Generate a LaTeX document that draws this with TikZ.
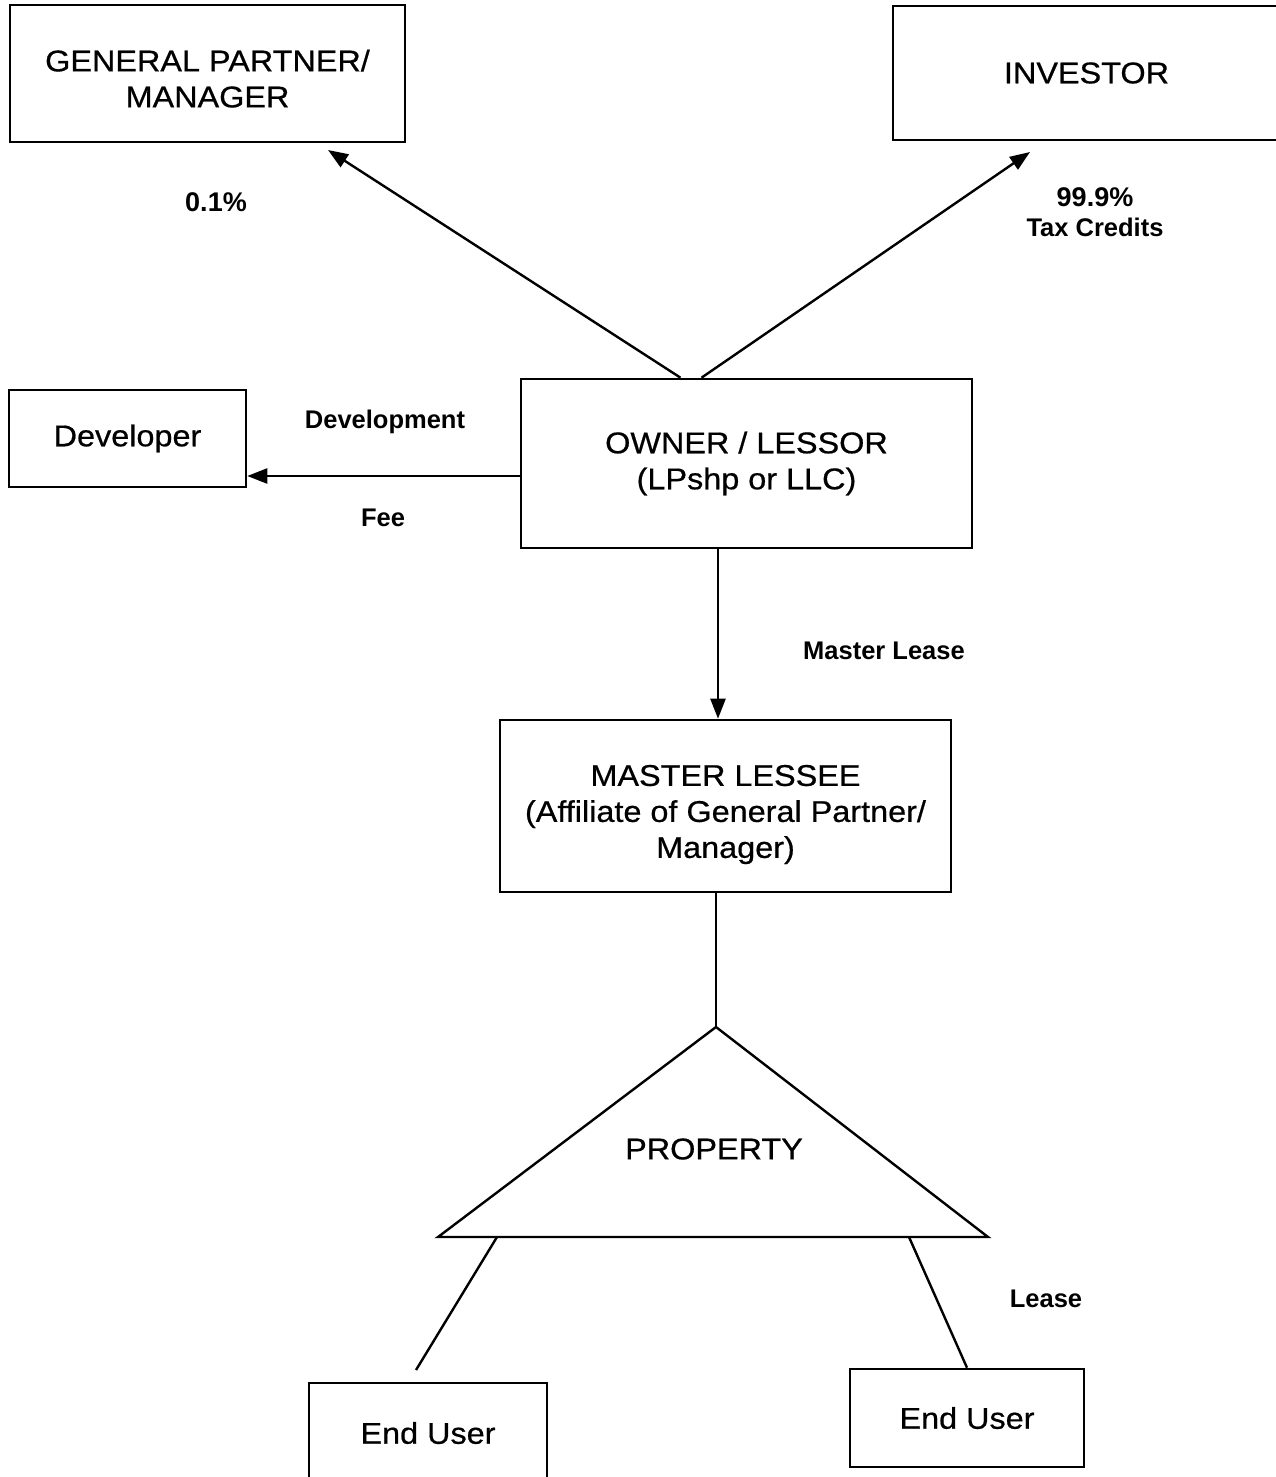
\documentclass[tikz,border=0pt]{standalone}
\usepackage{fontspec}
\setmainfont{Liberation Sans}
\newfontfamily\mainf[FakeStretch=1.08,FakeBold=0.6]{Liberation Sans}
\newfontfamily\lblf{Liberation Sans}
\usetikzlibrary{arrows.meta}
\begin{document}
\begin{tikzpicture}[x=1pt,y=-1pt,
  box/.style={draw,line width=2.6pt,inner sep=0pt,align=center,font=\mainf\fontsize{30}{36}\selectfont},
  lbl/.style={align=center,inner sep=0pt,font=\lblf\bfseries\fontsize{25.5}{30}\selectfont},
  conn/.style={line width=2.4pt},
  arr/.style={conn,-{Triangle[length=20pt,width=15pt]}}]
\useasboundingbox[fill=white] (0,0) rectangle (1275,1477);
% boxes
\node[box,minimum width=395pt,minimum height=137pt] (gp) at (207.5,73.5) {\rule{0pt}{32pt}GENERAL PARTNER/\\MANAGER};
\node[box,minimum width=387pt,minimum height=134pt] (inv) at (1086.5,73) {INVESTOR};
\node[box,minimum width=451pt,minimum height=169pt] (own) at (746.5,463.5) {OWNER / LESSOR\\(LPshp or LLC)};
\node[box,minimum width=237pt,minimum height=97pt] (dev) at (127.5,438.5) {Developer};
\node[box,minimum width=451pt,minimum height=172pt] (ml) at (725.5,806) {\rule{0pt}{38pt}MASTER LESSEE\\(Affiliate of General Partner/\\Manager)};
\node[box,minimum width=238pt,minimum height=100pt] (eul) at (428,1433) {End User};
\node[box,minimum width=234pt,minimum height=98pt] (eur) at (967,1418) {End User};
% triangle
\coordinate (apex) at (716,1027);
\coordinate (bl) at (438,1237);
\coordinate (br) at (988,1237);
\draw[line width=2.4pt,line join=miter] (apex) -- (bl) -- (br) -- cycle;
\node[box,draw=none] (prop) at (714,1149) {PROPERTY};
% labels
\node[lbl,font=\lblf\bfseries\fontsize{27}{30}\selectfont] (l01) at (216,202) {0.1\%};
\node[lbl] (l999) at (1095,212) {{\fontsize{27}{30}\selectfont 99.9\%}\\Tax Credits};
\node[lbl] (ldev) at (385,422) {Development};
\node[lbl] (lfee) at (383,518) {Fee};
\node[lbl] (lml) at (884,651) {Master Lease};
\node[lbl] (llease) at (1046,1299) {Lease};
% connectors
\coordinate (gptip) at (328,150);
\coordinate (invtip) at (1030,152);
\draw[arr] ([xshift=-66pt]own.north) -- (gptip);
\draw[arr] ([xshift=-45pt]own.north) -- (invtip);
\coordinate (devfee) at (521,476);
\draw[arr] (devfee) -- (devfee -| dev.east);
\coordinate (mlstart) at (718,548);
\draw[arr] (mlstart) -- (mlstart |- ml.north);
\draw[conn] (apex |- ml.south) -- (apex);
\coordinate (ll1) at (497,1237);
\coordinate (ll2) at (416,1370);
\draw[conn] (ll1) -- (ll2);
\coordinate (rl1) at (909,1237);
\draw[conn] (rl1) -- (eur.north);
\end{tikzpicture}
\end{document}
